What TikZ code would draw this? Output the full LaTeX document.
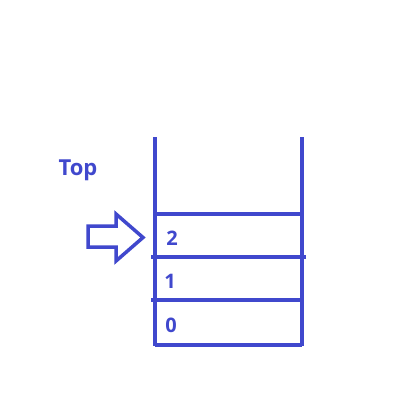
\documentclass[tikz,border=0pt]{standalone}
\usepackage{fontspec}
\setmainfont{Open Sans}
\definecolor{stk}{RGB}{64,72,205}
\begin{document}
\begin{tikzpicture}[x=1pt,y=-1pt,
  wall/.style={draw=stk,line width=4pt},
  lbl/.style={text=stk,font=\bfseries\fontsize{20}{22}\selectfont,anchor=base,inner sep=0pt},
  ptr/.style={draw=stk,line width=3.5pt,line join=miter}]
\useasboundingbox[fill=white] (0,0) rectangle (402,409);
% stack walls
\draw[wall] (155,137) -- (155,346);
\draw[wall] (302,137) -- (302,346);
\draw[wall] (155,214) -- (302,214);
\draw[wall] (151,257) -- (306,257);
\draw[wall] (151,300) -- (302,300);
\draw[wall] (155,345) -- (302,345);
% labels
\node[lbl] (v2) at (172,245) {2};
\node[lbl] (v1) at (170,288) {1};
\node[lbl] (v0) at (171,332) {0};
\node[lbl,font=\bfseries\fontsize{22}{24}\selectfont] (top) at (78,175) {Top};
% pointer arrow
\draw[ptr] (88,226) -- (116,226) -- (116,214) -- (143,237.5) -- (116,261) -- (116,247) -- (88,247) -- cycle;
\end{tikzpicture}
\end{document}
